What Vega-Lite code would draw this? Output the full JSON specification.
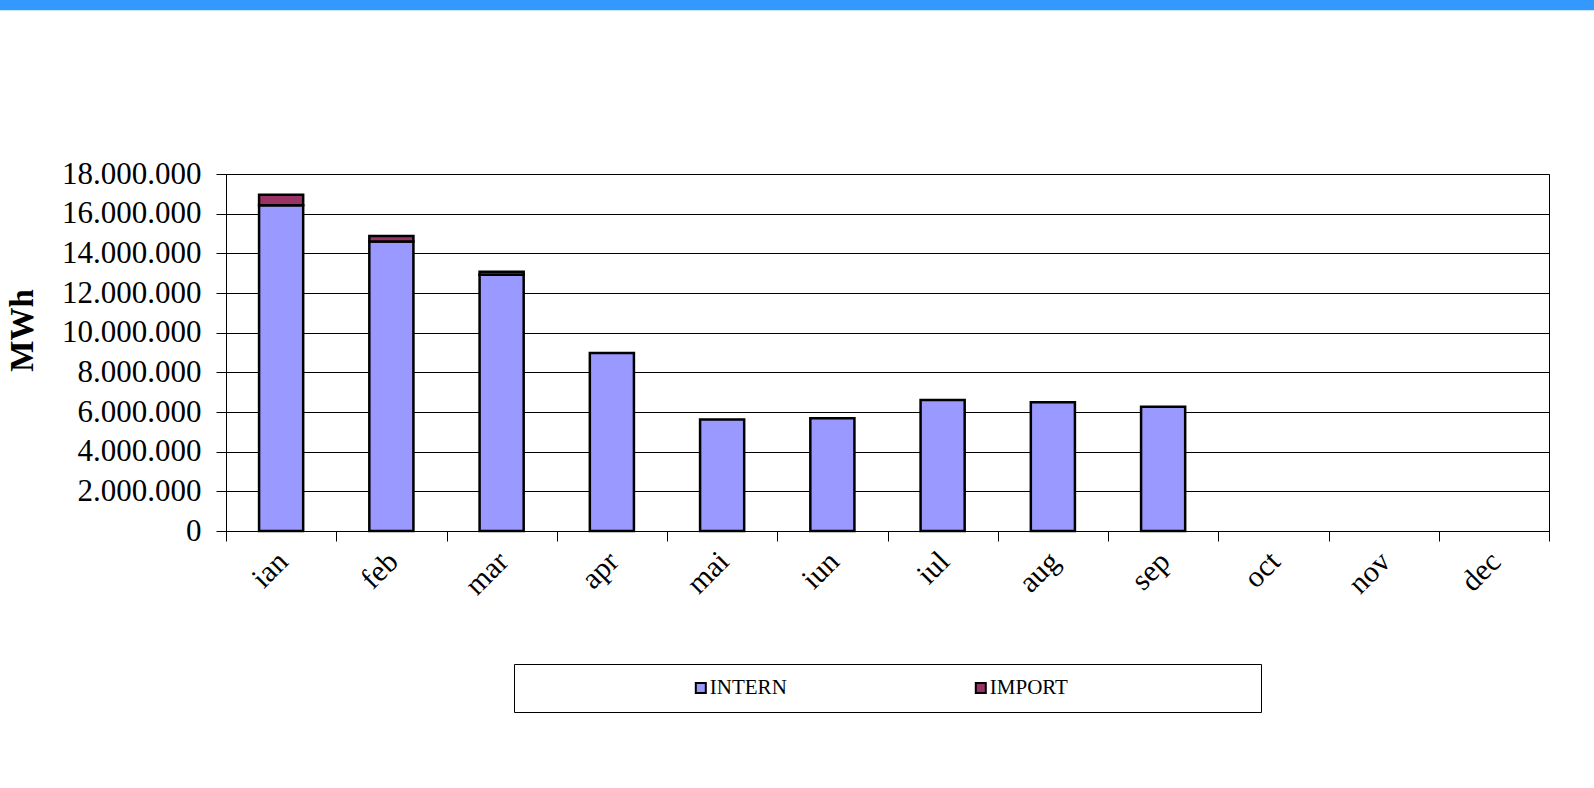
{
  "$schema": "https://vega.github.io/schema/vega-lite/v6.json",
  "usermeta": {"embedOptions": {"actions": false}},
  "padding": 0,
  "background": "white",
  "spacing": 133,
  "bounds": "flush",
  "center": true,
  "config": {
    "locale": {"number": {"decimal": ",", "thousands": ".", "grouping": [3], "currency": ["", ""]}},
    "view": {"stroke": null},
    "font": "Liberation Serif",
    "axis": {"domainColor": "#000", "tickColor": "#000", "gridColor": "#000", "gridOpacity": 1, "domainWidth": 1, "tickWidth": 1, "gridWidth": 1, "labelColor": "#000", "titleColor": "#000"}
  },
  "datasets": {
    "energy": [
      {"month": "ian", "series": "INTERN", "mwh": 16430000},
      {"month": "ian", "series": "IMPORT", "mwh": 530000},
      {"month": "feb", "series": "INTERN", "mwh": 14600000},
      {"month": "feb", "series": "IMPORT", "mwh": 270000},
      {"month": "mar", "series": "INTERN", "mwh": 12920000},
      {"month": "mar", "series": "IMPORT", "mwh": 150000},
      {"month": "apr", "series": "INTERN", "mwh": 8980000},
      {"month": "mai", "series": "INTERN", "mwh": 5620000},
      {"month": "iun", "series": "INTERN", "mwh": 5690000},
      {"month": "iul", "series": "INTERN", "mwh": 6610000},
      {"month": "aug", "series": "INTERN", "mwh": 6490000},
      {"month": "sep", "series": "INTERN", "mwh": 6260000}
    ],
    "series": [{"series": "INTERN"}, {"series": "IMPORT"}]
  },
  "vconcat": [
    {
      "width": 1775,
      "height": 41,
      "data": {"values": [{"k": "stripe"}]},
      "mark": {"type": "rect", "color": "#3399FF"},
      "encoding": {
        "y": {"datum": "a", "type": "nominal", "scale": {"domain": ["a", "b", "c", "d"], "paddingInner": 0, "paddingOuter": 0}, "axis": null}
      }
    },
    {
      "width": 1323,
      "height": 357,
      "data": {"name": "energy"},
      "view": {"stroke": "#000", "strokeWidth": 1},
      "mark": {"type": "bar", "stroke": "#000", "strokeWidth": 2.5, "width": {"band": 0.4}},
      "encoding": {
        "x": {
          "field": "month", "type": "nominal", "sort": null,
          "scale": {"domain": ["ian", "feb", "mar", "apr", "mai", "iun", "iul", "aug", "sep", "oct", "nov", "dec"], "paddingInner": 0, "paddingOuter": 0},
          "axis": {"title": null, "labelAngle": -45, "labelFontSize": 30, "tickBand": "extent", "tickSize": 10, "labelPadding": 5, "labelOffset": -9, "grid": false}
        },
        "y": {
          "field": "mwh", "type": "quantitative", "stack": "zero",
          "scale": {"domain": [0, 18000000], "nice": false},
          "axis": {"title": "MWh", "values": [0, 2000000, 4000000, 6000000, 8000000, 10000000, 12000000, 14000000, 16000000, 18000000], "format": ",d", "labelFontSize": 31, "grid": true, "tickSize": 10, "labelPadding": 15, "titleFontSize": 33, "titleFontWeight": "bold", "titlePadding": 22, "titleY": 156}
        },
        "color": {
          "field": "series", "type": "nominal", "sort": ["INTERN", "IMPORT"],
          "scale": {"domain": ["INTERN", "IMPORT"], "range": ["#9999FF", "#993366"]},
          "legend": null
        }
      }
    },
    {
      "width": 747,
      "height": 48,
      "data": {"name": "series"},
      "view": {"stroke": "#000", "strokeWidth": 1},
      "encoding": {
        "x": {"field": "series", "type": "nominal", "sort": null, "scale": {"type": "point", "domain": ["INTERN", "IMPORT"], "padding": 0.834, "align": 0.4}, "axis": null}
      },
      "layer": [
        {
          "mark": {"type": "point", "shape": "square", "filled": true, "size": 100, "stroke": "#000", "strokeWidth": 2, "opacity": 1},
          "encoding": {
            "fill": {"field": "series", "type": "nominal", "scale": {"domain": ["INTERN", "IMPORT"], "range": ["#9999FF", "#993366"]}, "legend": null}
          }
        },
        {
          "mark": {"type": "text", "align": "left", "baseline": "middle", "dx": 9, "fontSize": 21, "color": "#000"},
          "encoding": {"text": {"field": "series"}}
        }
      ]
    }
  ]
}
